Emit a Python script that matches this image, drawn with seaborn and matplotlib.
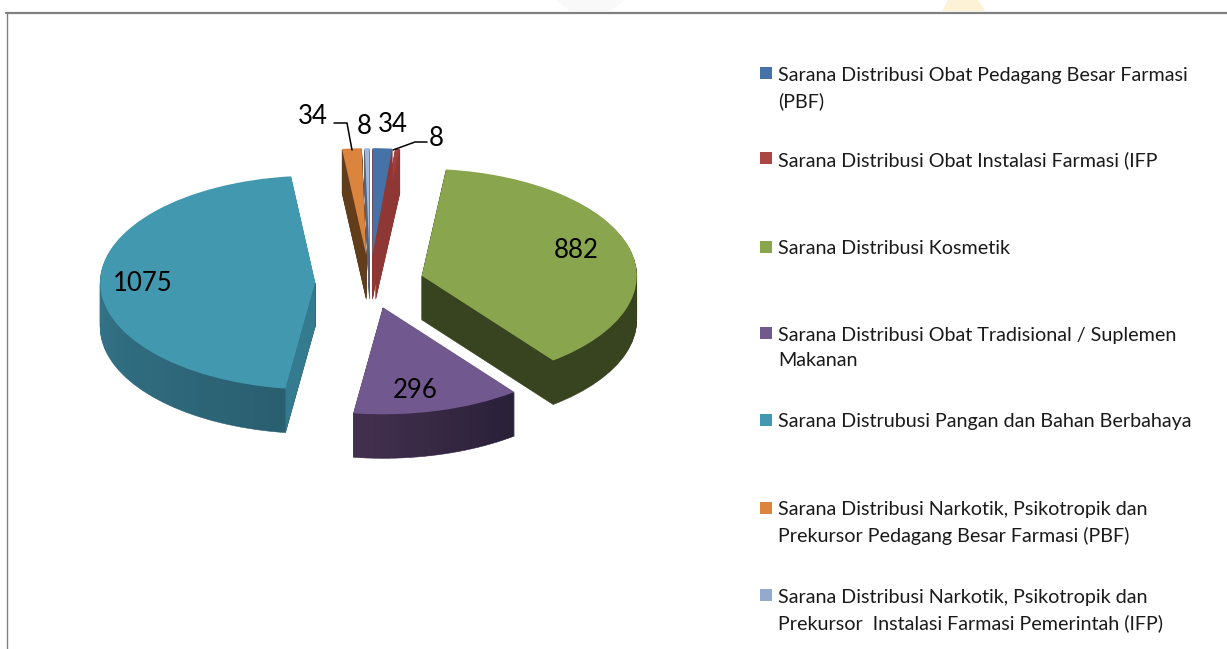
import numpy as np
import matplotlib
matplotlib.use("Agg")
import matplotlib.pyplot as plt
from matplotlib.patches import Rectangle
import seaborn as sns

# ---- data ----
categories = [
    "Sarana Distribusi Obat Pedagang Besar Farmasi\n(PBF)",
    "Sarana Distribusi Obat Instalasi Farmasi (IFP",
    "Sarana Distribusi Kosmetik",
    "Sarana Distribusi Obat Tradisional / Suplemen\nMakanan",
    "Sarana Distrubusi Pangan dan Bahan Berbahaya",
    "Sarana Distribusi Narkotik, Psikotropik dan\nPrekursor Pedagang Besar Farmasi (PBF)",
    "Sarana Distribusi Narkotik, Psikotropik dan\nPrekursor  Instalasi Farmasi Pemerintah (IFP)",
]
values = [34, 8, 882, 296, 1075, 34, 8]

# ---- style ----
top_colors = ["#4572A7", "#A23F3D", "#89A54E", "#71588F", "#4198AF", "#DB843D", "#A3B7D9"]
legend_colors = ["#4572A7", "#AA4643", "#89A54E", "#71588F", "#4198AF", "#DB843D", "#93A9CF"]
rim_start = ["#8F3735", "#8F3735", "#384320", "#2A2038", "#2A5F70", "#623D1C", "#55627A"]
rim_end = ["#8F3735", "#8F3735", "#384320", "#43304F", "#3D8AA3", "#623D1C", "#55627A"]
explode = [0.26, 0.26, 0.25, 0.235, 0.255, 0.26, 0.26]
rim_parts = [1, 1, 1, 24, 40, 1, 1]
draw_order = [4, 3, 2, 1, 0, 5, 6]

W, H = 1227, 649
CX, CY, RX, RY, DEPTH = 370, 283, 215, 107, 44

sns.set_theme(style="white")
plt.rcParams["font.family"] = ["Lato", "DejaVu Sans"]

fig = plt.figure(figsize=(W / 100, H / 100), dpi=100, facecolor="white")
ax = fig.add_axes([0, 0, 1, 1])


def dx(px):
    return (px - CX) / RX


def dy(py):
    return (CY - py) / RY


fractions = np.array(values) / sum(values)
starts = 90 - 360 * np.concatenate([[0], np.cumsum(fractions)[:-1]])
dstep = 1 / RY

for i in draw_order:
    frac = fractions[i]
    mid = np.deg2rad(starts[i] - 180 * frac)
    cx = explode[i] * np.cos(mid)
    cy = explode[i] * np.sin(mid)
    n = rim_parts[i]
    pal = sns.blend_palette([rim_start[i], rim_end[i]], n) if n > 1 else [rim_start[i]]
    for k in range(DEPTH, 0, -1):
        wedges, _ = ax.pie([frac / n] * n, colors=pal, startangle=starts[i],
                           counterclock=False, normalize=False,
                           center=(cx, cy - k * dstep), radius=1)
        for w in wedges:
            w.set_edgecolor(w.get_facecolor())
            w.set_linewidth(0.4)
    # radial cut face of the largest slice, seen at its start edge
    if i == 4:
        a = np.deg2rad(starts[i])
        ex, ey = cx + np.cos(a), cy + np.sin(a)
        d = DEPTH * dstep
        ax.fill([cx, ex, ex, cx], [cy, ey, ey - d, cy - d], color="#357B90", lw=0, zorder=2)
    wedges, _ = ax.pie([frac], colors=[top_colors[i]], startangle=starts[i],
                       counterclock=False, normalize=False, center=(cx, cy), radius=1)
    for w in wedges:
        w.set_linewidth(0)
        w.set_zorder(3 if i == 4 else w.get_zorder())

ax.set_aspect("auto")
ax.set_xlim(dx(0), dx(W))
ax.set_ylim(dy(H), dy(0))
ax.axis("off")

# value labels (pixel anchors)
label_px = [(393, 124), (436, 139), (576, 251), (415, 391), (143, 284), (313, 117), (364, 127)]
for v, (px, py) in zip(values, label_px):
    ax.text(dx(px), dy(py), str(v), ha="center", va="center", fontsize=18.5, color="black", zorder=10)

# leader lines
ax.plot([dx(334), dx(347), dx(352)], [dy(123), dy(123), dy(150)], color="black", lw=1.1, zorder=9)
ax.plot([dx(427), dx(415), dx(393)], [dy(142), dy(142), dy(150)], color="black", lw=1.1, zorder=9)

# legend
line_y = [75, 160, 249, 335, 422, 510, 597]
for name, col, y in zip(categories, legend_colors, line_y):
    fig.add_artist(Rectangle((760 / W, 1 - (y + 4) / H), 12 / W, 12 / H, transform=fig.transFigure,
                             facecolor=col, edgecolor="none"))
    for j, part in enumerate(name.split("\n")):
        fig.text(778 / W, 1 - (y + j * 26) / H, part, ha="left", va="center",
                 fontsize=14.2, color="#1a1a1a")

# chart frame
frame = "#808080"
fig.add_artist(plt.Line2D([6.5 / W, 6.5 / W], [0, 1 - 12 / H], color=frame, lw=1.0, transform=fig.transFigure))
fig.add_artist(plt.Line2D([6 / W, 1], [1 - 12.5 / H, 1 - 12.5 / H], color=frame, lw=1.6, transform=fig.transFigure))

# faint page background showing above the frame
ax.fill([dx(556), dx(625), dx(610), dx(570)], [dy(0), dy(0), dy(11), dy(11)], color="#F9F9F9", lw=0, zorder=1)
ax.fill([dx(942), dx(985), dx(978), dx(948)], [dy(11), dy(11), dy(0), dy(0)], color="#FDF1D6", lw=0, zorder=1)

fig.savefig("out.png", dpi=100)
